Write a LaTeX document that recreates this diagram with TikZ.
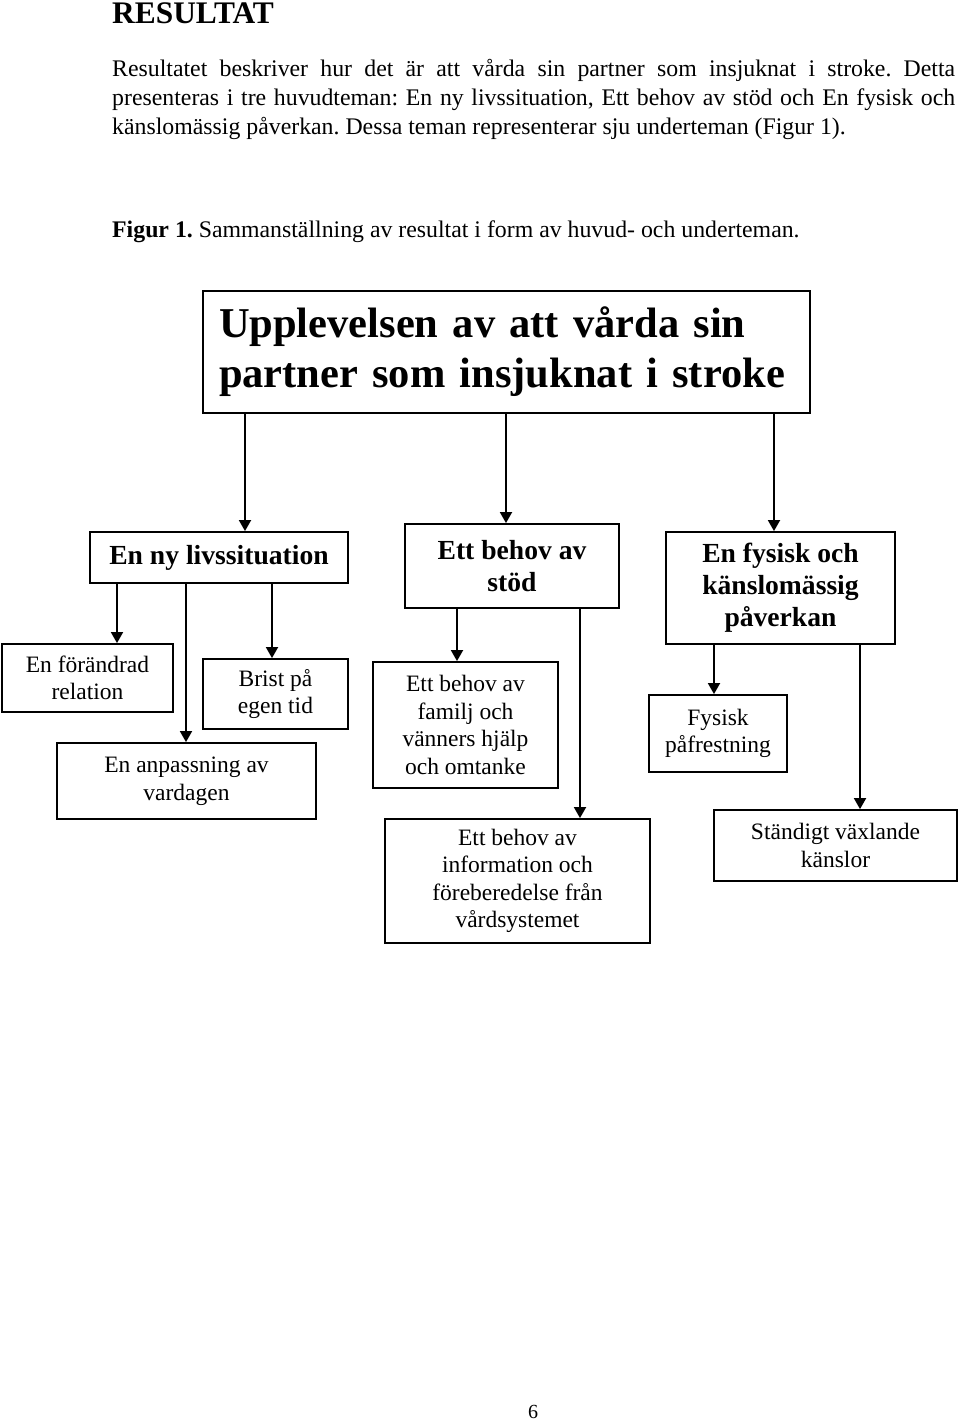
\documentclass[tikz,border=0pt]{standalone}
\usepackage{fontspec}
\setmainfont{Liberation Serif}
\usetikzlibrary{arrows.meta}
\frenchspacing
\newcommand\bodyfont{\fontsize{23.8}{29}\selectfont}
\newcommand\subfont{\fontsize{23.5}{27.5}\selectfont}
\newcommand\themefont{\fontsize{27.6}{32}\selectfont\bfseries}
\newcommand\toptitlefont{\fontsize{42.5}{50}\selectfont\bfseries}
\tikzset{subbox/.style={rectangle,draw=black,line width=1.8pt,inner sep=0pt,align=center,font=\subfont},
         themebox/.style={subbox,font=\themefont},
         pil/.style={-{Triangle[length=11pt,width=12pt]},line width=1.8pt}}
\begin{document}
\begin{tikzpicture}[x=1pt,y=-1pt]
                \path[use as bounding box,fill=white] (0,0) rectangle (960,1421);
                % text above the figure
                \node[anchor=base west,inner sep=0pt,font=\fontsize{31.4}{34}\selectfont\bfseries] (rubrik) at (112,24) {RESULTAT};
                \node[anchor=north west,inner sep=0pt,text width=843pt,align=justify,font=\bodyfont] (stycke) at (112,59)
                    {Resultatet beskriver hur det är att vårda sin partner som insjuknat i stroke. Detta\linebreak
                     presenteras i tre huvudteman: En ny livssituation, Ett behov av stöd och En fysisk och\linebreak
                     känslomässig påverkan. Dessa teman representerar sju underteman (Figur 1).};
                \node[anchor=base west,inner sep=0pt,font=\bodyfont] (figurtext) at (112,237) {\textbf{Figur 1.} Sammanställning av resultat i form av huvud- och underteman.};

                % main theme
                \node[rectangle,draw=black,line width=1.8pt,inner xsep=16pt,inner ysep=0pt,text width=575pt,minimum height=122pt,align=left,font=\toptitlefont] (tema) at (506.5,352)
                    {Upplevelsen av att vårda sin\\partner som insjuknat i stroke};

                \node[themebox,minimum width=258pt,minimum height=51pt] (nyliv) at (219,557.5) {En ny livssituation};
                \node[themebox,minimum width=214pt,minimum height=84pt] (stod) at (512,566) {Ett behov av\\stöd};
                \node[themebox,minimum width=229pt,minimum height=112pt] (fysisk) at (780.5,588) {En fysisk och\\känslomässig\\påverkan};

                % sub themes
                \node[subbox,minimum width=171pt,minimum height=68pt] (relation) at (87.5,678) {En förändrad\\relation};
                \node[subbox,minimum width=145pt,minimum height=70pt] (brist) at (275.5,694) {Brist på\\egen tid};
                \node[subbox,minimum width=259pt,minimum height=76pt] (vardag) at (186.5,781) {En anpassning av\\vardagen};

                \node[subbox,minimum width=185pt,minimum height=126pt] (familj) at (465.5,725) {Ett behov av\\familj och\\vänners hjälp\\och omtanke};
                \node[subbox,minimum width=265pt,minimum height=124pt] (info) at (517.5,881) {Ett behov av\\information och\\föreberedelse från\\vårdsystemet};

                \node[subbox,minimum width=138pt,minimum height=77pt] (pafrest) at (718,733.5) {Fysisk\\påfrestning};
                \node[subbox,minimum width=243pt,minimum height=71pt] (kanslor) at (835.5,845.5) {Ständigt växlande\\känslor};

                \foreach \fran/\till/\xpos in {tema/nyliv/245,tema/stod/506,tema/fysisk/774,
                                               nyliv/relation/117,nyliv/vardag/186,nyliv/brist/272,
                                               stod/familj/457,stod/info/580,
                                               fysisk/pafrest/714,fysisk/kanslor/860}
                    \draw[pil] (\fran.south -| \xpos,0) -- (\till.north -| \xpos,0);

                % page number
                \node[anchor=base,inner sep=0pt,font=\fontsize{20}{24}\selectfont] (sida) at (533,1418) {6};
            \end{tikzpicture}
\end{document}
